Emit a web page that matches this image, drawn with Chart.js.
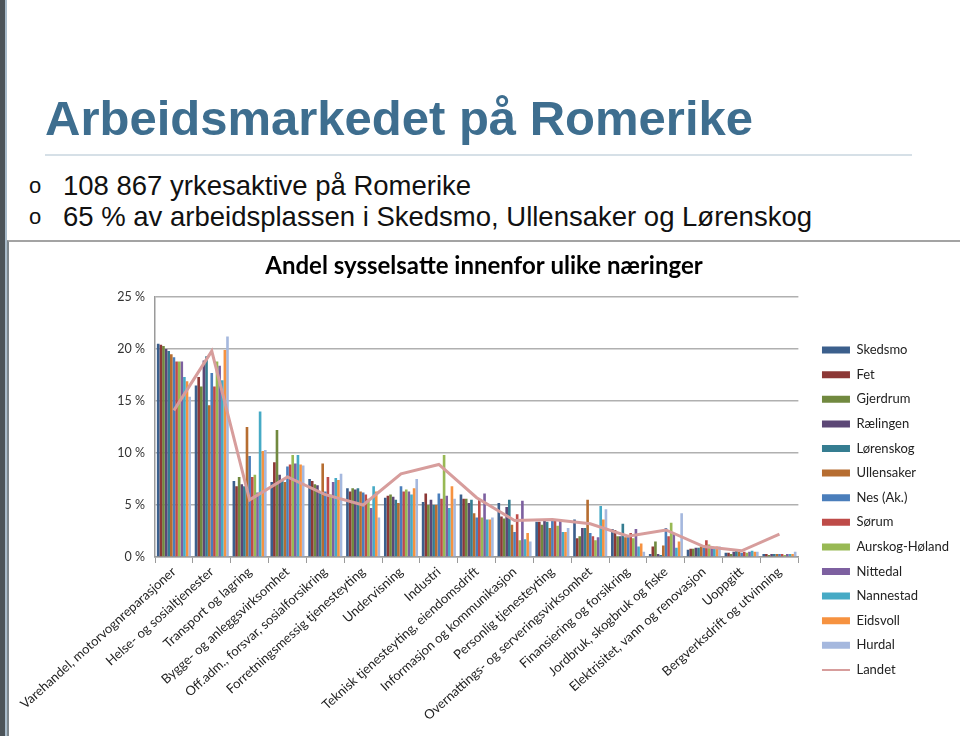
<!DOCTYPE html>
<html>
<head>
<meta charset="utf-8">
<script src="https://cdn.jsdelivr.net/npm/chart.js@4.4.1/dist/chart.umd.min.js"></script>
<style>
  body { margin: 0; width: 960px; height: 736px; background: #fff; position: relative; overflow: hidden; font-family: "Liberation Sans", Arial, sans-serif; }
  .edge { position: absolute; left: 0; top: 0; bottom: 0; width: 5px; background: #4c5459; }
  .edge2 { position: absolute; left: 5px; top: 0; bottom: 0; width: 2px; background: #a9bccb; }
  h1 { position: absolute; left: 45px; top: 94px; margin: 0; font-size: 49px; line-height: 49px; font-weight: bold; color: #3e6e8f; white-space: nowrap; }
  .rule { position: absolute; left: 45px; top: 154px; width: 867px; height: 2px; background: #d6e0e7; }
  .bullet { position: absolute; left: 63px; font-size: 27.5px; line-height: 27px; color: #111; white-space: nowrap; }
  .dot { position: absolute; left: 29px; font-size: 22px; line-height: 27px; color: #111; }
  .frame { position: absolute; left: 7px; top: 240px; width: 951px; height: 494px; border-left: 2px solid #7d878d; border-top: 2px solid #a3a3a3; }
  .frame canvas { display: block; }
</style>
</head>
<body>
<div class="edge"></div>
<div class="edge2"></div>
<h1>Arbeidsmarkedet på Romerike</h1>
<div class="rule"></div>
<div class="dot" style="top:172px">o</div>
<div class="bullet" style="top:172px">108 867 yrkesaktive på Romerike</div>
<div class="dot" style="top:203px">o</div>
<div class="bullet" style="top:203px">65 % av arbeidsplassen i Skedsmo, Ullensaker og Lørenskog</div>
<div class="frame"><canvas id="chart" width="951" height="494"></canvas></div>
<script>
const categories = [
  'Varehandel, motorvognreparasjoner',
  'Helse- og sosialtjenester',
  'Transport og lagring',
  'Bygge- og anleggsvirksomhet',
  'Off.adm., forsvar, sosialforsikring',
  'Forretningsmessig tjenesteyting',
  'Undervisning',
  'Industri',
  'Teknisk tjenesteyting, eiendomsdrift',
  'Informasjon og kommunikasjon',
  'Personlig tjenesteyting',
  'Overnattings- og serveringsvirksomhet',
  'Finansiering og forsikring',
  'Jordbruk, skogbruk og fiske',
  'Elektrisitet, vann og renovasjon',
  'Uoppgitt',
  'Bergverksdrift og utvinning'
];

// andel sysselsatte (%) per kommune
const skedsmo    = [20.5, 16.5, 7.3, 7.2, 7.5, 6.6, 5.7, 5.3, 6.0, 5.2, 3.4, 3.6, 2.7, 0.3, 0.7, 0.4, 0.3];
const fet        = [20.4, 17.3, 6.8, 9.1, 7.3, 6.3, 5.9, 6.1, 5.6, 3.9, 3.4, 1.8, 2.6, 1.0, 0.8, 0.4, 0.3];
const gjerdrum   = [20.3, 16.4, 7.7, 12.2, 7.0, 6.6, 6.0, 5.0, 5.6, 3.7, 3.1, 2.0, 2.0, 1.5, 0.8, 0.3, 0.2];
const raelingen  = [20.0, 18.9, 7.0, 7.9, 6.9, 6.5, 5.8, 5.5, 5.2, 4.8, 3.5, 2.8, 2.0, 0.3, 0.9, 0.5, 0.3];
const lorenskog  = [19.8, 19.3, 6.8, 7.5, 6.2, 6.6, 5.5, 5.0, 5.5, 5.5, 3.4, 2.8, 3.2, 0.2, 0.9, 0.6, 0.3];
const ullensaker = [19.5, 14.6, 12.5, 7.2, 9.0, 6.3, 5.2, 5.0, 4.2, 3.1, 2.8, 5.5, 1.9, 1.1, 1.0, 0.5, 0.3];
const nes        = [19.2, 17.7, 9.7, 8.7, 6.3, 6.2, 6.8, 6.1, 3.8, 2.4, 3.5, 2.3, 2.0, 2.8, 1.0, 0.4, 0.3];
const sorum      = [18.8, 16.4, 7.7, 8.9, 7.7, 6.0, 6.3, 5.6, 5.5, 4.1, 3.6, 2.0, 2.3, 2.0, 1.6, 0.5, 0.3];
const aurskog    = [18.8, 18.8, 7.9, 9.8, 6.0, 5.6, 6.5, 9.8, 3.8, 1.6, 3.0, 1.6, 1.8, 3.3, 1.2, 0.4, 0.2];
const nittedal   = [18.8, 18.4, 6.2, 9.0, 7.2, 4.7, 6.3, 5.9, 6.1, 5.4, 3.5, 1.9, 2.7, 2.2, 0.9, 0.5, 0.3];
const nannestad  = [17.3, 17.0, 14.0, 9.8, 7.6, 6.8, 6.0, 4.7, 3.6, 1.7, 2.4, 4.9, 1.0, 0.9, 0.9, 0.6, 0.3];
const eidsvoll   = [16.9, 19.9, 10.2, 8.9, 7.4, 6.3, 6.6, 6.8, 3.6, 2.3, 2.4, 3.6, 1.3, 1.5, 1.0, 0.5, 0.3];
const hurdal     = [15.4, 21.2, 10.3, 8.8, 8.0, 3.8, 7.5, 5.6, 3.8, 1.5, 2.8, 4.6, 0.5, 4.2, 1.0, 0.5, 0.5];
const landet     = [14.1, 19.8, 5.5, 7.7, 6.0, 5.0, 8.0, 8.9, 5.7, 3.5, 3.6, 3.2, 2.0, 2.6, 1.0, 0.6, 2.2];

const yTicks = [0, 5, 10, 15, 20, 25];

const kommuner = [
  ['Skedsmo', skedsmo, '#3b5f8c'],
  ['Fet', fet, '#8c3836'],
  ['Gjerdrum', gjerdrum, '#71893f'],
  ['Rælingen', raelingen, '#5c4776'],
  ['Lørenskog', lorenskog, '#357d91'],
  ['Ullensaker', ullensaker, '#b66d31'],
  ['Nes (Ak.)', nes, '#4a7ebb'],
  ['Sørum', sorum, '#be4b48'],
  ['Aurskog-Høland', aurskog, '#98b954'],
  ['Nittedal', nittedal, '#7d60a0'],
  ['Nannestad', nannestad, '#46aac5'],
  ['Eidsvoll', eidsvoll, '#f69240'],
  ['Hurdal', hurdal, '#a5b8de']
];

const datasets = kommuner.map(([label, data, color]) => ({
  type: 'bar',
  label: label,
  data: data,
  backgroundColor: color,
  pointStyle: 'rect',
  order: 1,
  categoryPercentage: 0.9,
  barPercentage: 1.0
}));

datasets.push({
  type: 'line',
  label: 'Landet',
  data: landet,
  borderColor: '#d79d9c',
  backgroundColor: '#d79d9c',
  borderWidth: 3,
  pointRadius: 0,
  pointBorderWidth: 2,
  pointStyle: 'line',
  tension: 0,
  order: 0
});

const font = 'Lato, "Open Sans", sans-serif';

new Chart(document.getElementById('chart').getContext('2d'), {
  data: { labels: categories, datasets: datasets },
  options: {
    responsive: false,
    animation: false,
    layout: { padding: { right: 1 } },
    plugins: {
      title: {
        display: true,
        text: 'Andel sysselsatte innenfor ulike næringer',
        color: '#000',
        font: { family: font, size: 24, weight: 'bold' },
        padding: { top: 9.6, bottom: 16.6 }
      },
      legend: {
        position: 'right',
        align: 'center',
        title: { display: true, text: ' ', font: { size: 12 }, padding: { top: 0, bottom: 27.6 } },
        labels: {
          usePointStyle: true,
          pointStyleWidth: 28,
          boxHeight: 7,
          padding: 11.6,
          color: '#222',
          font: { family: font, size: 13 },
          sort: (a, b) => a.datasetIndex - b.datasetIndex
        }
      },
      tooltip: { enabled: false }
    },
    scales: {
      x: {
        grid: { display: true, drawOnChartArea: false, tickLength: 6, color: '#9a9a9a' },
        border: { display: true, color: '#9a9a9a', width: 1.5 },
        ticks: {
          autoSkip: false,
          minRotation: 42,
          maxRotation: 42,
          padding: 1,
          color: '#222',
          font: { family: font, size: 13 }
        },
        afterFit: (scale) => { scale.height = 179; scale.paddingLeft = 0; }
      },
      y: {
        min: 0,
        max: 25,
        afterBuildTicks: (scale) => { scale.ticks = yTicks.map(v => ({ value: v })); },
        grid: { color: '#b0b0b0', lineWidth: 1.5, drawTicks: false },
        border: { display: true, color: '#9a9a9a', width: 1.5 },
        ticks: {
          padding: 10,
          color: '#333',
          font: { family: font, size: 12.5 },
          callback: (v) => v + ' %'
        },
        afterFit: (scale) => { scale.width = 146; }
      },
      gap: {
        type: 'linear',
        position: 'right',
        display: true,
        grid: { display: false },
        border: { display: false },
        ticks: { display: false },
        afterFit: (scale) => { scale.width = 12; }
      }
    }
  }
});
</script>
</body>
</html>
